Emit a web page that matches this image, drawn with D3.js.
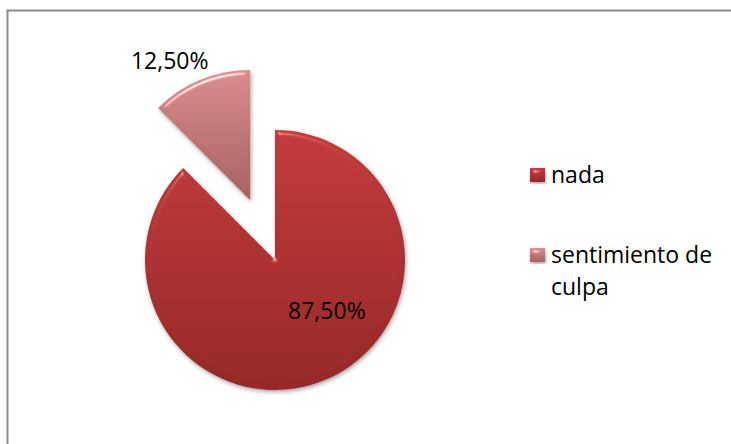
<!DOCTYPE html>
<html>
<head>
<meta charset="utf-8">
<script src="https://cdn.jsdelivr.net/npm/d3@7"></script>
<style>
  body { margin: 0; background: #fff; overflow: hidden; }
  svg { display: block; }
  text { font-family: "Open Sans", "Liberation Sans", sans-serif; fill: #000; }
</style>
</head>
<body>
<div id="chart"></div>
<script>
// data
const categories = ["nada", "sentimiento de culpa"];
const values = [87.5, 12.5];
const labels = ["87,50%", "12,50%"];
const exploded = [false, true];

const width = 731;
const height = 444;

const svg = d3
  .select("#chart")
  .append("svg")
  .attr("width", width)
  .attr("height", height);

const defs = svg.append("defs");

// gradients for the two slices
function addGradient(id, top, bottom) {
  let g = defs
    .append("linearGradient")
    .attr("id", id)
    .attr("x1", 0)
    .attr("y1", 0)
    .attr("x2", 0)
    .attr("y2", 1);
  g.append("stop").attr("offset", "0%").attr("stop-color", top);
  g.append("stop").attr("offset", "100%").attr("stop-color", bottom);
}
addGradient("g0", "#c33b3c", "#952828");
addGradient("g1", "#d98c8c", "#a86060");

// soft bevel + shadow like the office chart
const bevel = defs
  .append("filter")
  .attr("id", "bevel")
  .attr("color-interpolation-filters", "sRGB")
  .attr("x", "-10%")
  .attr("y", "-10%")
  .attr("width", "120%")
  .attr("height", "120%");
bevel
  .append("feGaussianBlur")
  .attr("in", "SourceAlpha")
  .attr("stdDeviation", 2.5)
  .attr("result", "blur");
bevel
  .append("feSpecularLighting")
  .attr("in", "blur")
  .attr("surfaceScale", 3)
  .attr("specularConstant", 0.45)
  .attr("specularExponent", 60)
  .attr("lighting-color", "#ffffff")
  .attr("result", "spec")
  .append("feDistantLight")
  .attr("azimuth", 250)
  .attr("elevation", 45);
bevel
  .append("feComposite")
  .attr("in", "spec")
  .attr("in2", "SourceAlpha")
  .attr("operator", "in")
  .attr("result", "specIn");
bevel
  .append("feComposite")
  .attr("in", "SourceGraphic")
  .attr("in2", "specIn")
  .attr("operator", "arithmetic")
  .attr("k1", 0)
  .attr("k2", 1)
  .attr("k3", 1)
  .attr("k4", 0)
  .attr("result", "lit");
bevel
  .append("feOffset")
  .attr("in", "SourceAlpha")
  .attr("dx", 1)
  .attr("dy", 2)
  .attr("result", "off");
bevel
  .append("feGaussianBlur")
  .attr("in", "off")
  .attr("stdDeviation", 2)
  .attr("result", "shadowBlur");
bevel
  .append("feColorMatrix")
  .attr("in", "shadowBlur")
  .attr("type", "matrix")
  .attr("values", "0 0 0 0 0  0 0 0 0 0  0 0 0 0 0  0 0 0 0.35 0")
  .attr("result", "shadow");
const merge = bevel.append("feMerge");
merge.append("feMergeNode").attr("in", "shadow");
merge.append("feMergeNode").attr("in", "lit");

// chart frame (right and bottom edges fall outside the picture)
svg
  .append("path")
  .attr("d", "M7.5,444 V10.5 H731")
  .attr("fill", "none")
  .attr("stroke", "#8c8c8c")
  .attr("stroke-width", 2);

// pie
const cx = 275,
  cy = 260,
  radius = 130,
  explodeDist = 65;

const data = categories.map((c, i) => ({
  name: c,
  value: values[i],
  label: labels[i],
  exploded: exploded[i],
  idx: i,
}));

const pie = d3.pie().sort(null).value((d) => d.value);
const arc = d3.arc().innerRadius(0).outerRadius(radius);
const arcs = pie(data);

function offset(d) {
  if (!d.data.exploded) return [0, 0];
  let a = (d.startAngle + d.endAngle) / 2;
  return [Math.sin(a) * explodeDist, -Math.cos(a) * explodeDist];
}

const g = svg.append("g").attr("transform", "translate(" + cx + "," + cy + ")");

g.selectAll("path")
  .data(arcs)
  .enter()
  .append("path")
  .attr("transform", (d) => "translate(" + offset(d) + ")")
  .attr("d", arc)
  .attr("fill", (d) => "url(#g" + d.data.idx + ")")
  .attr("filter", "url(#bevel)");

// data labels: inside for the big slice, outside for the exploded one
function labelPos(d) {
  let a = (d.startAngle + d.endAngle) / 2;
  let o = offset(d);
  if (d.data.exploded) {
    a = a - 0.13;
    let r = radius + 31;
    return [o[0] + Math.sin(a) * r, o[1] - Math.cos(a) * r];
  }
  a = a - 0.4;
  let r = radius * 0.56;
  return [o[0] + Math.sin(a) * r, o[1] - Math.cos(a) * r];
}

g.selectAll("text")
  .data(arcs)
  .enter()
  .append("text")
  .attr("transform", (d) => "translate(" + labelPos(d) + ")")
  .attr("text-anchor", "middle")
  .attr("dy", ".35em")
  .style("font-size", "23px")
  .text((d) => d.data.label);

// legend
const color = d3
  .scaleOrdinal()
  .domain(categories)
  .range(["url(#g0)", "url(#g1)"]);

const legendLines = [["nada"], ["sentimiento de", "culpa"]];
const legendY = d3.scalePoint().domain(categories).range([175, 255]);

const legend = svg
  .selectAll(".legend")
  .data(categories)
  .enter()
  .append("g")
  .attr("class", "legend")
  .attr("transform", (d) => "translate(530," + legendY(d) + ")");

legend
  .append("rect")
  .attr("x", 0)
  .attr("y", -7)
  .attr("width", 15)
  .attr("height", 14)
  .attr("fill", color)
  .attr("filter", "url(#bevel)");

legend
  .append("text")
  .attr("x", 21)
  .attr("y", 0)
  .style("font-size", "23px")
  .selectAll("tspan")
  .data((d, i) => legendLines[i])
  .enter()
  .append("tspan")
  .attr("x", 21)
  .attr("dy", (d, i) => (i === 0 ? "0.35em" : "1.4em"))
  .text((d) => d);
</script>
</body>
</html>
